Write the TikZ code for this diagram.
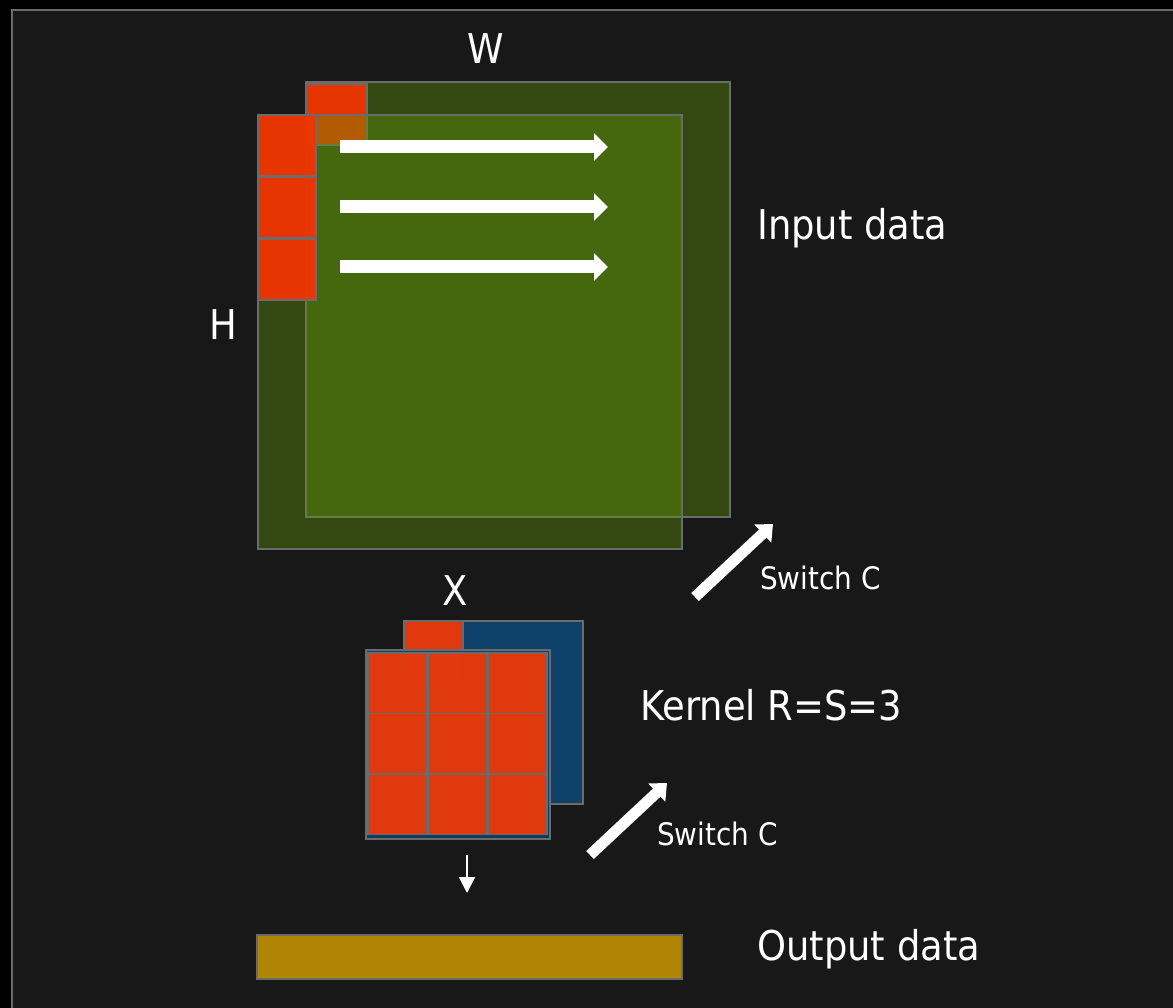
\documentclass[tikz,border=0pt]{standalone}
\usepackage{fontspec}
\setmainfont{DejaVu Sans}[FakeStretch=0.9]
\usetikzlibrary{arrows.meta}

\definecolor{outer}{HTML}{000000}
\definecolor{panel}{HTML}{181818}
\definecolor{edgegray}{HTML}{6B6B6B}
\definecolor{framegray}{HTML}{6A6A6A}
\definecolor{inputgreen}{HTML}{62990A}
\definecolor{cellred}{HTML}{EE3500}
\definecolor{kernred}{HTML}{EA390B}
\definecolor{kernblue}{HTML}{0D4169}
\definecolor{outgold}{HTML}{B08505}

\tikzset{
  layer/.style={draw=edgegray, line width=1.5pt, fill=inputgreen, fill opacity=0.38},
  cell/.style={draw=edgegray, line width=1.5pt, fill=cellred, fill opacity=0.96},
  kcell/.style={draw=edgegray, line width=1.5pt, fill=kernred, fill opacity=0.96},
  kback/.style={draw=edgegray, line width=1.2pt, fill=kernblue},
  bigtext/.style={text=white, inner sep=0pt, font=\fontsize{41}{41}\selectfont},
  smalltext/.style={text=white, inner sep=0pt, font=\fontsize{31}{31}\selectfont},
  scan/.style={draw=white, line width=13pt, -{Triangle[length=14pt,width=27pt]}},
  switch/.style={draw=white, line width=11pt, -{Triangle[length=14pt,width=24pt]}},
  down/.style={draw=white, line width=2pt, -{Triangle[length=16pt,width=16pt]}}
}

\begin{document}
\begin{tikzpicture}[x=1pt, y=-1pt]
  \useasboundingbox (0,0) rectangle (1173,1008);
  \fill[outer] (0,0) rectangle (1173,1008);
  \draw[fill=panel, draw=framegray, line width=2pt] (12,10) rectangle (1185,1020);

  % input data: two channel planes
  \path[layer] (306,82) rectangle (730,517);
  \path[cell] (306,84) rectangle (367,145);
  \path[layer] (258,115) rectangle (682,549);
  \path[cell] (258,115) rectangle (316,176);
  \path[cell] (258,177) rectangle (316,238);
  \path[cell] (258,239) rectangle (316,300);

  % scan direction along W
  \coordinate (r1s) at (340,147); \coordinate (r1e) at (608,147);
  \coordinate (r2s) at (340,207); \coordinate (r2e) at (608,207);
  \coordinate (r3s) at (340,267); \coordinate (r3e) at (608,267);
  \draw[scan] (r1s) -- (r1e);
  \draw[scan] (r2s) -- (r2e);
  \draw[scan] (r3s) -- (r3e);

  \node[bigtext, anchor=base] (w) at (486,64) {W};
  \node[bigtext, anchor=base] (h) at (223,340) {H};
  \node[bigtext, anchor=base west] (input) at (757,240) {Input data};

  % switch channel for the input
  \coordinate (sw1s) at (695,597); \coordinate (sw1e) at (773,524);
  \draw[switch] (sw1s) -- (sw1e);
  \node[smalltext, anchor=base west] (swa) at (760,589) {Switch C};

  % kernel: two channel planes
  \path[kback] (404,621) rectangle (583,804);
  \path[kcell] (404,621) rectangle (463,682);
  \path[kback, fill opacity=0.9] (366,650) rectangle (550,839);
  \foreach \i in {0,1,2} {
    \foreach \j in {0,1,2} {
      \path[kcell] ({368+60*\i},{653+60.5*\j}) rectangle ({427+60*\i},{713.5+60.5*\j});
    }
  }
  \node[bigtext, anchor=base] (x) at (455,605) {X};
  \node[bigtext, anchor=base west] (kernel) at (640,720) {Kernel R=S=3};

  % switch channel for the kernel
  \coordinate (sw2s) at (590,855); \coordinate (sw2e) at (667,783);
  \draw[switch] (sw2s) -- (sw2e);
  \node[smalltext, anchor=base west] (swb) at (657,845) {Switch C};

  % output
  \coordinate (ds) at (467,855); \coordinate (de) at (467,893);
  \draw[down] (ds) -- (de);
  \path[draw=edgegray, line width=1.5pt, fill=outgold] (257,935) rectangle (682,979);
  \node[bigtext, anchor=base west] (output) at (757,960) {Output data};
\end{tikzpicture}
\end{document}
